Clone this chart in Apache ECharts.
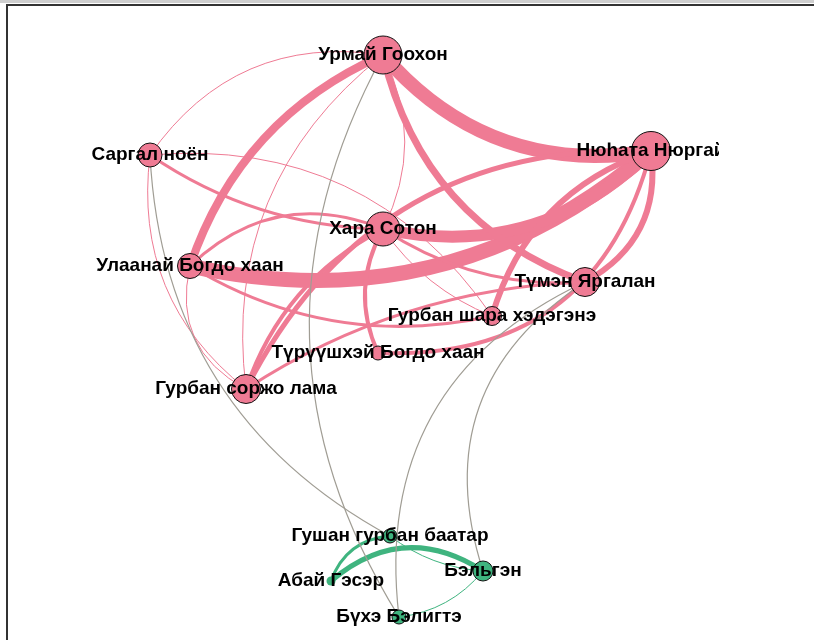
<!DOCTYPE html>
<html>
<head>
<meta charset="utf-8">
<style>
html, body { margin: 0; padding: 0; background: #fff; }
#chart { width: 814px; height: 640px; }
</style>
<script src="https://cdn.jsdelivr.net/npm/echarts@6/dist/echarts.min.js"></script>
</head>
<body>
<div id="chart"></div>
<script>
// узлы графа (координаты раскладки в пикселях)
const nodeNames = [
     'Урмай Гоохон', 'Нюһата Нюргай', 'Саргал ноён', 'Хара Сотон',
     'Улаанай Богдо хаан', 'Түмэн Яргалан', 'Гурбан шара хэдэгэнэ',
     'Түрүүшхэй Богдо хаан', 'Гурбан соржо лама',
     'Гушан гурбан баатар', 'Бэльгэн', 'Абай Гэсэр', 'Бүхэ Бэлигтэ'
];
const nodeX = [383, 651, 150, 383, 190, 585, 492, 378, 246, 390, 483, 331, 399];
const nodeY = [55, 151, 155, 229, 266, 282, 316, 353, 389, 536, 571, 581, 617];
const nodeSize = [38, 39, 24, 34, 25, 29, 19, 14, 29, 14, 20, 9, 14];
const nodeGroup = [0, 0, 0, 0, 0, 0, 0, 0, 0, 1, 1, 1, 1];

// рёбра: источник, цель, вес
const edgeFrom = [1, 1, 1, 4, 5, 6, 1, 8, 8, 8, 7, 3, 2, 4, 8, 8, 2, 8, 0, 5, 6, 1, 6, 11, 11, 10, 10, 9, 12, 12, 10];
const edgeTo = [0, 4, 3, 0, 0, 1, 7, 1, 3, 5, 3, 2, 6, 3, 4, 0, 0, 2, 3, 3, 3, 5, 4, 10, 9, 9, 12, 2, 0, 5, 5];
const edgeWeight = [14, 15, 12, 8, 7, 6, 4, 5, 4, 3, 4, 3, 1, 3, 1, 1, 1, 1, 1, 3, 1, 6, 3, 5, 3, 1, 1, 1, 1, 1, 1];
// изгиб каждого ребра
const edgeBend = [0.28, 0.25, 0.27, 0.22, 0.27, 0.26, 0.4, 0.32, 0.2, 0.14, 0.25, 0.15, 0.29, 0.32, 0.38, 0.28, 0.31, 0.28, 0.25, 0.17, 0.15, 0.34, 0.2, 0.37, 0.32, 0.15, 0.2, 0.28, 0.29, 0.36, 0.38];

const groupColor = ['#ef7b94', '#3fb47f'];
const mixedColor = '#a09d94';

const chart = echarts.init(document.getElementById('chart'));

const nodes = nodeNames.map((name, i) => ({
     name: name,
     value: [nodeX[i], nodeY[i]],
     symbolSize: nodeSize[i],
     itemStyle: {
          color: groupColor[nodeGroup[i]],
          borderColor: '#111',
          borderWidth: nodeSize[i] > 10 ? 1 : 0,
     },
}));

const links = edgeFrom.map((s, i) => {
     const t = edgeTo[i];
     const same = nodeGroup[s] === nodeGroup[t];
     return {
          source: s,
          target: t,
          lineStyle: {
               color: same ? groupColor[nodeGroup[s]] : mixedColor,
               width: same ? edgeWeight[i] : 1.2,
               curveness: edgeBend[i],
               opacity: 1,
          },
     };
});

chart.setOption({
     animation: false,
     backgroundColor: '#ffffff',
     grid: { left: 0, right: 0, top: 0, bottom: 0 },
     xAxis: { type: 'value', min: 0, max: 814, show: false },
     yAxis: { type: 'value', min: 0, max: 640, inverse: true, show: false },
     graphic: [
          { type: 'rect', shape: { x: 0, y: 0, width: 814, height: 3 }, style: { fill: '#cfcfcf' } },
          { type: 'rect', shape: { x: 6, y: 4, width: 808, height: 2 }, style: { fill: '#333' } },
          { type: 'rect', shape: { x: 6, y: 4, width: 2, height: 636 }, style: { fill: '#333' } },
          // правый край обрезает подпись
          { type: 'rect', z: 100, shape: { x: 719, y: 138, width: 95, height: 28 }, style: { fill: '#fff' } },
     ],
     series: [
          {
               type: 'graph',
               coordinateSystem: 'cartesian2d',
               symbol: 'circle',
               data: nodes,
               links: links,
               label: {
                    show: true,
                    position: 'inside',
                    color: '#000',
                    fontSize: 19,
                    fontWeight: 'bold',
                    fontFamily: 'Liberation Sans, Arial, sans-serif',
               },
               emphasis: { disabled: true },
          },
     ],
});
</script>
</body>
</html>
